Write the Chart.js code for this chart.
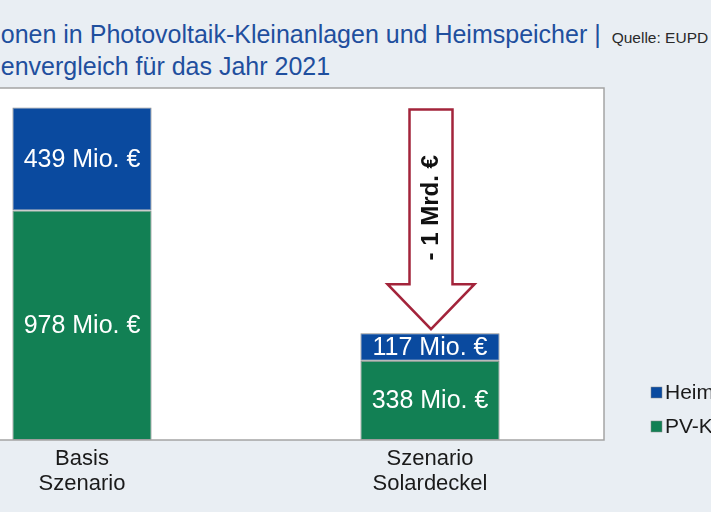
<!DOCTYPE html>
<html>
<head>
<meta charset="utf-8">
<script src="https://cdn.jsdelivr.net/npm/chart.js@4.4.1/dist/chart.umd.min.js"></script>
<style>
  html, body { margin:0; padding:0; width:711px; height:512px; overflow:hidden; background:#e9eef3; }
  #title { position:absolute; left:-84px; top:20px; font-family:"Liberation Sans", Arial, sans-serif; font-size:25px; line-height:28px; color:#1f4f9e; white-space:nowrap; }
  #title .src { font-size:15.5px; color:#2a2a2a; margin-left:11px; }
  #wrap { position:absolute; left:-120px; top:0; width:960px; height:512px; }
</style>
</head>
<body>
<div id="title">Investitionen in Photovoltaik-Kleinanlagen und Heimspeicher |<span class="src">Quelle: EUPD Research</span><br>Szenarienvergleich für das Jahr 2021</div>
<div id="wrap"><canvas id="c"></canvas></div>
<script>
const categories = [["Basis", "Szenario"], ["Szenario", "Solardeckel"]];
const seriesNames = ["PV-Kleinanlagen", "Heimspeicher"];
const pvValues = [978, 338];
const speicherValues = [439, 117];
const unitSuffix = " Mio. €";
const deltaLabel = "- 1 Mrd. €";
const colors = ["#128054", "#0a4a9f"];

const FONT = '"Liberation Sans", Arial, sans-serif';

const plotBg = {
  id: 'plotBg',
  beforeDatasetsDraw(chart) {
    const {ctx, chartArea: a} = chart;
    ctx.save();
    ctx.fillStyle = '#ffffff';
    ctx.fillRect(a.left, a.top, a.right - a.left, a.bottom - a.top);
    ctx.restore();
  },
  afterDatasetsDraw(chart) {
    const {ctx, chartArea: a} = chart;
    ctx.save();
    ctx.strokeStyle = '#a4a4a4';
    ctx.lineWidth = 1.5;
    ctx.strokeRect(a.left, a.top, a.right - a.left, a.bottom - a.top);
    ctx.restore();
  }
};

const valueLabels = {
  id: 'valueLabels',
  afterDatasetsDraw(chart) {
    const {ctx} = chart;
    ctx.save();
    ctx.fillStyle = '#ffffff';
    ctx.font = '25px ' + FONT;
    ctx.textAlign = 'center';
    ctx.textBaseline = 'middle';
    chart.data.datasets.forEach((ds, di) => {
      chart.getDatasetMeta(di).data.forEach((el, i) => {
        const y = (el.y + el.base) / 2;
        ctx.fillText(ds.data[i] + unitSuffix, el.x, y + 1);
      });
    });
    ctx.restore();
  }
};

const arrow = {
  id: 'arrow',
  afterDatasetsDraw(chart) {
    const {ctx} = chart;
    const xs = chart.scales.x, ys = chart.scales.y;
    const tot0 = pvValues[0] + speicherValues[0];
    const tot1 = pvValues[1] + speicherValues[1];
    const cx = xs.getPixelForValue(1) + 1;
    const top = ys.getPixelForValue(tot0) + 2;
    const tip = ys.getPixelForValue(tot1) - 4;
    const headLen = 45, sw = 21.5, hw = 43.5;
    const hs = tip - headLen;
    ctx.save();
    ctx.beginPath();
    ctx.moveTo(cx - sw, top);
    ctx.lineTo(cx + sw, top);
    ctx.lineTo(cx + sw, hs);
    ctx.lineTo(cx + hw, hs);
    ctx.lineTo(cx, tip);
    ctx.lineTo(cx - hw, hs);
    ctx.lineTo(cx - sw, hs);
    ctx.closePath();
    ctx.fillStyle = '#ffffff';
    ctx.fill();
    ctx.strokeStyle = '#a3243b';
    ctx.lineWidth = 2.5;
    ctx.lineJoin = 'miter';
    ctx.stroke();
    ctx.translate(cx, (top + hs) / 2 + 11);
    ctx.rotate(-Math.PI / 2);
    ctx.fillStyle = '#111';
    ctx.font = 'bold 24px ' + FONT;
    ctx.textAlign = 'center';
    ctx.textBaseline = 'middle';
    ctx.fillText(deltaLabel, 0, 0);
    ctx.restore();
  }
};

const sideLegend = {
  id: 'sideLegend',
  afterDraw(chart) {
    const {ctx, chartArea: a} = chart;
    const x = a.right + 47;
    const order = [1, 0];
    ctx.save();
    ctx.font = '21px ' + FONT;
    ctx.textBaseline = 'middle';
    ctx.textAlign = 'left';
    order.forEach((di, k) => {
      const ds = chart.data.datasets[di];
      const yc = 392.5 + k * 34;
      ctx.fillStyle = ds.backgroundColor;
      ctx.fillRect(x, yc - 5.5, 11, 11);
      ctx.strokeStyle = '#888';
      ctx.lineWidth = 0.5;
      ctx.strokeRect(x, yc - 5.5, 11, 11);
      ctx.fillStyle = '#1a1a1a';
      ctx.fillText(ds.label, x + 14, yc + 1);
    });
    ctx.restore();
  }
};

new Chart(document.getElementById('c'), {
  type: 'bar',
  data: {
    labels: categories,
    datasets: [
      { label: seriesNames[0], data: pvValues, backgroundColor: colors[0], borderColor: '#8a8a8a', borderWidth: 1, borderSkipped: false },
      { label: seriesNames[1], data: speicherValues, backgroundColor: colors[1], borderColor: '#8a8a8a', borderWidth: 1, borderSkipped: false }
    ]
  },
  options: {
    responsive: true,
    maintainAspectRatio: false,
    animation: false,
    events: [],
    layout: { padding: { left: 28, right: 236, top: 88, bottom: 0 } },
    datasets: { bar: { categoryPercentage: 1, barPercentage: 0.4 } },
    plugins: { legend: { display: false }, tooltip: { enabled: false }, title: { display: false } },
    scales: {
      x: {
        stacked: true,
        offset: true,
        grid: { display: false, drawTicks: false },
        border: { display: false },
        ticks: { color: '#1a1a1a', font: { family: FONT, size: 22, lineHeight: 1.15 }, padding: 6, maxRotation: 0, autoSkip: false },
        afterFit(scale) { scale.height = 72; }
      },
      y: {
        stacked: true,
        display: false,
        min: 0,
        max: 1500
      }
    }
  },
  plugins: [plotBg, valueLabels, arrow, sideLegend]
});
</script>
</body>
</html>
